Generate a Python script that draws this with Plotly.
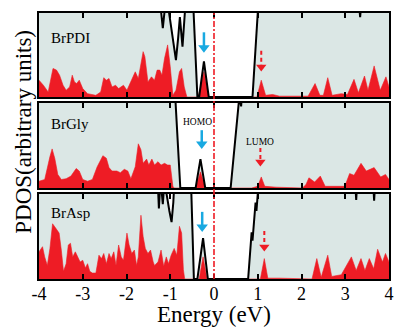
import plotly.graph_objects as go

# ---------------- data ----------------
PANEL_NAMES = ["BrPDI", "BrGly", "BrAsp"]

# red PDOS, panel 1 (BrPDI)
E1 = [-4.0, -3.90, -3.79, -3.68, -3.60, -3.53, -3.45, -3.38, -3.30, -3.24, -3.19, -3.14, -3.08,
      -3.00, -2.89, -2.70, -2.59, -2.52, -2.46, -2.40, -2.33, -2.25, -2.18, -2.07, -1.99, -1.88,
      -1.80, -1.73, -1.67, -1.62, -1.58, -1.51, -1.43, -1.36, -1.30, -1.24, -1.19, -1.13, -1.06,
      -1.00, -0.94, -0.87, -0.79, -0.74, -0.68, -0.62, -0.36, -0.23, -0.12, 0.98, 1.08, 1.18,
      1.34, 1.50, 2.15, 2.31, 2.42, 2.50, 2.60, 2.70, 2.91, 3.05, 3.20, 3.30, 3.44, 3.52, 3.66,
      3.80, 3.93, 4.00]
P1 = [0.20, 0.14, 0.06, 0.34, 0.32, 0.26, 0.14, 0.08, 0.12, 0.26, 0.18, 0.16, 0.20,
      0.10, 0.04, 0.02, 0.06, 0.23, 0.20, 0.22, 0.12, 0.14, 0.10, 0.14, 0.08, 0.20,
      0.30, 0.22, 0.40, 0.54, 0.48, 0.18, 0.24, 0.20, 0.32, 0.32, 0.26, 0.46, 0.62,
      0.36, 0.02, 0.08, 0.30, 0.34, 0.12, 0.00, 0.00, 0.30, 0.00, 0.00, 0.20, 0.02,
      0.03, 0.01, 0.01, 0.16, 0.02, 0.02, 0.23, 0.02, 0.04, 0.03, 0.21, 0.05, 0.25, 0.08, 0.37,
      0.08, 0.24, 0.12]

# red PDOS, panel 2 (BrGly)
E2 = [-4.0, -3.87, -3.75, -3.70, -3.64, -3.57, -3.49, -3.38, -3.27, -3.15, -3.08, -3.00, -2.89,
      -2.78, -2.67, -2.54, -2.46, -2.40, -2.33, -2.22, -2.14, -2.05, -1.97, -1.90, -1.80, -1.73,
      -1.67, -1.62, -1.54, -1.49, -1.42, -1.36, -1.28, -1.21, -1.13, -1.06, -1.00, -0.94, -0.91,
      -0.42, -0.31, -0.20, 0.86, 0.92, 1.00, 1.08, 1.16, 1.42, 2.02, 2.10, 2.17, 2.30, 2.43,
      2.54, 2.99, 3.10, 3.20, 3.36, 3.48, 3.66, 3.81, 3.92, 4.00]
P2 = [0.08, 0.10, 0.37, 0.46, 0.35, 0.16, 0.10, 0.11, 0.14, 0.23, 0.20, 0.10, 0.08,
      0.10, 0.25, 0.38, 0.35, 0.24, 0.20, 0.20, 0.18, 0.22, 0.20, 0.11, 0.25, 0.52,
      0.45, 0.29, 0.34, 0.27, 0.34, 0.27, 0.31, 0.27, 0.29, 0.27, 0.27, 0.02, 0.00,
      0.00, 0.19, 0.00, 0.00, 0.01, 0.02, 0.13, 0.02, 0.01, 0.00, 0.04, 0.12, 0.07, 0.14,
      0.02, 0.02, 0.17, 0.15, 0.29, 0.20, 0.24, 0.13, 0.16, 0.10]

# red PDOS, panel 3 (BrAsp)
E3 = [-4.0, -3.92, -3.87, -3.81, -3.75, -3.69, -3.62, -3.54, -3.49, -3.44, -3.38, -3.33, -3.28,
      -3.23, -3.17, -3.12, -3.06, -3.00, -2.94, -2.89, -2.84, -2.78, -2.70, -2.63, -2.57, -2.52,
      -2.46, -2.40, -2.35, -2.29, -2.24, -2.18, -2.12, -2.07, -1.99, -1.94, -1.88, -1.82, -1.77,
      -1.73, -1.67, -1.62, -1.57, -1.51, -1.45, -1.39, -1.36, -1.28, -1.21, -1.15, -1.09, -1.04,
      -0.98, -0.91, -0.85, -0.79, -0.74, -0.70, -0.67, -0.34, -0.25, -0.16, 1.06, 1.15, 1.23,
      1.49, 2.24, 2.35, 2.45, 2.60, 2.69, 2.91, 3.14, 3.25, 3.36, 3.45, 3.55, 3.65, 3.74, 3.85,
      3.92, 4.00]
P3 = [0.32, 0.38, 0.26, 0.16, 0.36, 0.65, 0.60, 0.54, 0.34, 0.09, 0.18, 0.40, 0.42,
      0.26, 0.32, 0.26, 0.20, 0.22, 0.13, 0.18, 0.09, 0.07, 0.07, 0.28, 0.24, 0.30,
      0.18, 0.30, 0.24, 0.32, 0.16, 0.40, 0.26, 0.22, 0.54, 0.40, 0.30, 0.34, 0.16,
      0.26, 0.75, 0.50, 0.36, 0.30, 0.34, 0.20, 0.16, 0.20, 0.34, 0.15, 0.26, 0.18,
      0.28, 0.36, 0.28, 0.62, 0.54, 0.11, 0.00, 0.00, 0.26, 0.00, 0.00, 0.24, 0.01,
      0.01, 0.00, 0.24, 0.02, 0.28, 0.03, 0.05, 0.26, 0.10, 0.24, 0.10, 0.24, 0.12, 0.35, 0.20,
      0.30, 0.20]

# total DOS (black line, grey fill), values > 1 run off the top of the panel
TE1 = [-4.0, -1.24, -1.21, -1.17, -1.13, -1.10, -1.04, -0.95, -0.87, -0.82, -0.78, -0.72, -0.67,
       -0.64, -0.47, -0.38, -0.34, -0.23, -0.12, 0.88, 1.00, 1.03, 3.30, 3.34, 3.38, 4.0]
TD1 = [1.2, 1.2, 1.02, 0.82, 1.02, 1.2, 1.05, 0.70, 0.44, 0.70, 0.95, 0.60, 1.05,
       1.2, 1.05, 0.0, 0.0, 0.425, 0.0, 0.0, 1.0, 1.2, 1.2, 0.95, 1.2, 1.2]
TE2 = [-4.0, -0.88, -0.77, -0.42, -0.31, -0.20, 0.38, 0.55, 0.58, 0.62, 0.65, 4.0]
TD2 = [1.2, 1.02, 0.0, 0.0, 0.34, 0.0, 0.0, 1.0, 1.08, 0.96, 1.2, 1.2]
TE3 = [-4.0, -1.29, -1.26, -1.23, -1.20, -1.17, -1.14, -1.10, -1.02, -0.97, -0.93, -0.90, -0.52,
       -0.46, -0.38, -0.25, -0.14, 0.78, 0.86, 0.88, 0.95, 0.97, 1.00, 1.03, 3.22, 3.25, 3.28,
       3.63, 3.66, 3.69, 4.0]
TD3 = [1.2, 1.2, 0.83, 1.1, 1.05, 0.88, 1.1, 1.05, 0.80, 0.67, 0.90, 1.2, 1.05,
       0.0, 0.0, 0.48, 0.0, 0.0, 0.55, 0.45, 0.90, 0.80, 1.0, 1.2, 1.2, 0.93, 1.2,
       1.2, 0.92, 1.2, 1.2]

X_TICKS = [-4, -3, -2, -1, 0, 1, 2, 3, 4]
X_TICK_TEXT = ["-4", "-3", "-2", "-1", "0", "1", "2", "3", "4"]

# HOMO (blue solid) and LUMO (red dashed) arrows: x, y top, y tip
HOMO_ARROW_X = [-0.23, -0.28, -0.27]
HOMO_ARROW_Y = [(0.77, 0.54), (0.68, 0.47), (0.79, 0.565)]
LUMO_ARROW_X = [1.08, 1.06, 1.15]
LUMO_ARROW_Y = [(0.55, 0.31), (0.47, 0.26), (0.565, 0.33)]

# ---------------- style ----------------
RED = "#ee1c25"
BLUE = "#19a9e1"
GREY = "#dbe7e5"
FONT = "Liberation Serif"

reds = [(E1, P1), (E2, P2), (E3, P3)]
tots = [(TE1, TD1), (TE2, TD2), (TE3, TD3)]
domains = [[0.6842, 1.0], [0.342, 0.6617], [0.0, 0.3195]]
panel_px = [84, 85, 85]

fig = go.Figure()
for i in range(3):
    xa = "x" if i == 0 else f"x{i+1}"
    ya = "y" if i == 0 else f"y{i+1}"
    te, td = tots[i]
    e, p = reds[i]
    fig.add_trace(go.Scatter(x=te, y=td, mode="lines", fill="tozeroy", fillcolor=GREY,
                             line=dict(width=0, color=GREY), xaxis=xa, yaxis=ya, hoverinfo="skip"))
    fig.add_trace(go.Scatter(x=e, y=p, mode="lines", fill="tozeroy", fillcolor=RED,
                             line=dict(width=0.6, color=RED), xaxis=xa, yaxis=ya, hoverinfo="skip"))
    fig.add_trace(go.Scatter(x=te, y=td, mode="lines",
                             line=dict(width=2, color="black"), xaxis=xa, yaxis=ya, hoverinfo="skip"))
    # arrows
    hx = HOMO_ARROW_X[i]
    y0, y1 = HOMO_ARROW_Y[i]
    off = 4.0 / panel_px[i]
    fig.add_trace(go.Scatter(x=[hx, hx], y=[y0, y1 + off], mode="lines",
                             line=dict(width=2.5, color=BLUE), xaxis=xa, yaxis=ya, hoverinfo="skip"))
    fig.add_trace(go.Scatter(x=[hx], y=[y1 + off], mode="markers",
                             marker=dict(symbol="triangle-down", size=10, color=BLUE, line=dict(width=0)),
                             xaxis=xa, yaxis=ya, hoverinfo="skip"))
    lx = LUMO_ARROW_X[i]
    y0, y1 = LUMO_ARROW_Y[i]
    fig.add_trace(go.Scatter(x=[lx, lx], y=[y0, y1 + off], mode="lines",
                             line=dict(width=2, color=RED, dash="4px,3px"), xaxis=xa, yaxis=ya, hoverinfo="skip"))
    fig.add_trace(go.Scatter(x=[lx], y=[y1 + off], mode="markers",
                             marker=dict(symbol="triangle-down", size=9, color=RED, line=dict(width=0)),
                             xaxis=xa, yaxis=ya, hoverinfo="skip"))

layout = dict(
    width=396, height=327,
    margin=dict(l=39, r=2, t=13, b=48),
    paper_bgcolor="white", plot_bgcolor="white",
    showlegend=False,
    font=dict(family=FONT, color="black"),
)
for i in range(3):
    xk = "xaxis" if i == 0 else f"xaxis{i+1}"
    yk = "yaxis" if i == 0 else f"yaxis{i+1}"
    ya = "y" if i == 0 else f"y{i+1}"
    xa = "x" if i == 0 else f"x{i+1}"
    layout[xk] = dict(range=[-4, 4], domain=[0, 1], anchor=ya, tickvals=X_TICKS, ticktext=X_TICK_TEXT,
                      ticks="inside", ticklen=5, tickwidth=1.5, tickcolor="black",
                      showline=True, linewidth=2, linecolor="black", mirror="ticks",
                      showgrid=False, zeroline=False, showticklabels=(i == 2),
                      ticklabeloverflow="allow", ticklabelstandoff=-3,
                      tickfont=dict(family=FONT, size=18, color="black"))
    layout[yk] = dict(range=[0, 1], domain=domains[i], anchor=xa, showticklabels=False, ticks="",
                      showline=True, linewidth=2, linecolor="black", mirror=True,
                      showgrid=False, zeroline=False)
fig.update_layout(**layout)

# Fermi level line
fig.add_shape(type="line", xref="x3", yref="paper", x0=0, x1=0, y0=0, y1=1,
              line=dict(color=RED, width=1.6, dash="6px,2px,2px,2px"))

# panel labels
label_y = [0.70, 0.75, 0.78]
for i, name in enumerate(PANEL_NAMES):
    xa = "x" if i == 0 else f"x{i+1}"
    ya = "y" if i == 0 else f"y{i+1}"
    fig.add_annotation(x=-3.77, y=label_y[i], xref=xa, yref=ya, text=name, showarrow=False,
                       xanchor="left", yanchor="middle", font=dict(family=FONT, size=15, color="black"))

fig.add_annotation(x=-0.38, y=0.78, xref="x2", yref="y2", text="HOMO", showarrow=False,
                   font=dict(family=FONT, size=9.5, color="black"))
fig.add_annotation(x=1.06, y=0.545, xref="x2", yref="y2", text="LUMO", showarrow=False,
                   font=dict(family=FONT, size=9.5, color="black"))

fig.add_annotation(x=-0.045, y=0.5545, xref="paper", yref="paper", text="PDOS(arbitrary units)",
                   showarrow=False, textangle=-90, xanchor="center", yanchor="middle",
                   font=dict(family=FONT, size=23, color="black"))
fig.add_annotation(x=0.5, y=-0.135, xref="paper", yref="paper", text="Energy (eV)",
                   showarrow=False, xanchor="center", yanchor="middle",
                   font=dict(family=FONT, size=23, color="black"))

fig.write_html("out.html", config={"displayModeBar": False},
               post_script="document.body.style.margin='0';document.body.style.overflow='hidden';")
